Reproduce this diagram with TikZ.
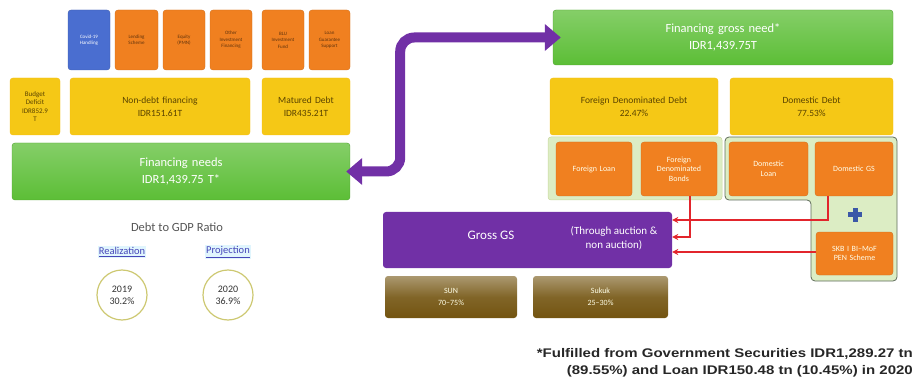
\documentclass[tikz,border=0pt]{standalone}
\usepackage{fontspec}
\setmainfont{Carlito}
\newfontfamily\fnfont[FakeStretch=1.2]{Liberation Sans}
\usetikzlibrary{arrows.meta,calc}
\definecolor{grn}{HTML}{5CBE36}
\definecolor{ylw}{HTML}{F5C816}
\definecolor{org}{HTML}{F08020}
\definecolor{blu}{HTML}{4A6ED0}
\definecolor{pur}{HTML}{7130A6}
\definecolor{brn}{HTML}{735410}
\definecolor{red2}{HTML}{E2252C}
\definecolor{lgrn}{HTML}{DCEDC4}
\definecolor{frm}{HTML}{5E6B5A}
\definecolor{txtg}{HTML}{555555}
\definecolor{ytxt}{HTML}{5A4300}
\begin{document}
\begin{tikzpicture}[x=1pt,y=-1pt,
  bx/.style 2 args={rounded corners=3pt, align=center, inner sep=1pt,
    minimum width=#1pt, minimum height=#2pt, text width={#1pt-6pt}},
  gbox/.style={top color=grn!75!white, bottom color=grn, draw=grn!85!black, line width=0.4pt,
    text=white, font=\fontsize{12.5}{17}\selectfont},
  ybox/.style={fill=ylw, draw=ylw!85!orange, text=ytxt, font=\fontsize{9.5}{13}\selectfont},
  obox/.style={fill=org, draw=org!85!black, line width=0.3pt, text=white!92!yellow, font=\fontsize{8}{9.5}\selectfont},
  sbox/.style={fill=org, draw=org!85!black, line width=0.3pt, text=org!40!black, font=\fontsize{5}{6.5}\selectfont},
  pbox/.style={fill=pur, text=white, font=\fontsize{11}{14}\selectfont},
  bbox/.style={top color=brn!60!white, bottom color=brn, middle color=brn!90!white, text=white!90!yellow, font=\fontsize{8}{12}\selectfont},
  redarr/.style={draw=red2, line width=1.6pt, -{Stealth[length=6pt,width=6pt]}},
  bigarr/.style={draw=pur, line width=10pt, rounded corners=14pt,
    {Triangle[length=16pt,width=26pt]}-{Triangle[length=16pt,width=26pt]}},
  ratio/.style={circle, draw=olive!45!white, line width=1.2pt, minimum size=50pt, inner sep=0pt,
    align=center, text=black!80, font=\fontsize{10}{12}\selectfont},
  lbl/.style={text=txtg, inner sep=1pt}
]
\useasboundingbox (0,0) rectangle (917,387);

% ---------- left: top small boxes ----------
\node[bx={42}{60}, sbox, fill=blu, draw=blu!80!black, text=white] (b0) at (89,40) {Covid-19\\Handling};
\node[bx={43}{60}, sbox] (b1) at (136.5,40) {Lending\\Scheme};
\node[bx={42}{60}, sbox] (b2) at (184,40) {Equity\\(PMN)};
\node[bx={42}{60}, sbox] (b3) at (231,40) {Other\\Investment\\Financing};
\node[bx={42}{60}, sbox] (b4) at (283,40) {BLU\\Investment\\Fund};
\node[bx={41}{60}, sbox] (b5) at (329.5,40) {Loan\\Guarantee\\Support};

% ---------- left: yellow row ----------
\node[bx={50}{57}, ybox, font=\fontsize{7}{8.5}\selectfont] (y1) at (35,106.5) {Budget\\Deficit\\IDR852.9\\T};
\node[bx={180}{57}, ybox] (y2) at (160,106.5) {Non-debt financing\\IDR151.61T};
\node[bx={88}{57}, ybox] (y3) at (306,106.5) {Matured Debt\\IDR435.21T};

% ---------- left: green ----------
\node[bx={338}{57}, gbox] (gl) at (181,171.5) {Financing needs\\IDR1,439.75 T*};

% ---------- debt to GDP ----------
\node[lbl, font=\fontsize{12.5}{14}\selectfont] (dg) at (177,227) {Debt to GDP Ratio};
\node[lbl, fill=cyan!12, text=blue!45!gray, font=\fontsize{10.5}{12}\selectfont] (re) at (122,252) {\underline{Realization}};
\node[lbl, fill=cyan!12, text=blue!45!gray, font=\fontsize{10.5}{12}\selectfont] (pr) at (228,252) {\underline{Projection}};
\node[ratio] (c1) at (122,295) {2019\\30.2\%};
\node[ratio] (c2) at (228,295) {2020\\36.9\%};

% ---------- right: green ----------
\node[bx={340}{55}, gbox] (gr) at (723,37.5) {Financing gross need*\\IDR1,439.75T};

% ---------- right: yellow ----------
\node[bx={168}{57}, ybox] (yf) at (634,106.5) {Foreign Denominated Debt\\22.47\%};
\node[bx={163}{57}, ybox] (yd) at (811.5,106.5) {Domestic Debt\\77.53\%};

% ---------- right: frames ----------
\filldraw[fill=lgrn, draw=lgrn!80!olive, line width=0.5pt, rounded corners=3pt] (548,137) rectangle (722,200);
\filldraw[fill=lgrn, draw=frm, line width=0.8pt, rounded corners=4pt]
  (725,137) -- (897,137) -- (897,281) -- (811,281) -- (811,200) -- (725,200) -- cycle;

% ---------- right: orange row ----------
\node[bx={76}{54}, obox] (fl) at (594,169) {Foreign Loan};
\node[bx={76}{54}, obox] (fb) at (679,169) {Foreign\\Denominated\\Bonds};
\node[bx={79}{54}, obox] (dl) at (768.5,169) {Domestic\\Loan};
\node[bx={78}{54}, obox] (dgs) at (854,169) {Domestic GS};
\node[bx={77}{43}, obox] (skb) at (854.5,253.5) {SKB I BI--MoF\\PEN Scheme};

% plus icon
\node[inner sep=0pt] (plus) at (855,215) {};
\fill[blu!80!black] ($(plus)+(-2.5,-7)$) rectangle ($(plus)+(2.5,7)$);
\fill[blu!80!black] ($(plus)+(-7,-2.5)$) rectangle ($(plus)+(7,2.5)$);

% ---------- purple & brown ----------
\node[bx={289}{56}, pbox] (gs) at (527.5,240) {};
\node[pbox, font=\fontsize{13}{15}\selectfont, inner sep=0pt] (gst) at (491,235) {Gross GS};
\node[pbox, align=center, inner sep=0pt] (gsn) at (614,238) {(Through auction \&\\non auction)};
\node[bx={132}{42}, bbox] (sun) at (451,297) {SUN\\70--75\%};
\node[bx={135}{42}, bbox] (suk) at (600.5,297) {Sukuk\\25--30\%};

% ---------- red arrows ----------
\coordinate (fbout) at ($(fb.south)+(11,0)$);
\coordinate (dgsout) at ($(dgs.south)+(-26,0)$);
\draw[redarr] (dgsout) |- ($(gs.east)+(0,-20)$);
\draw[redarr] (fbout) |- ($(gs.east)+(0,-3)$);
\draw[redarr] (skb.west |- 0,252) -- ($(gs.east)+(0,12)$);

% ---------- big purple arrow ----------
\draw[bigarr] ($(gl.east)+(-4,0)$) -- ($(gl.east)+(50,0)$) |- ($(gr.west)+(8,0)$);

% ---------- footnote ----------
\node[anchor=east, align=right, inner sep=0pt, text=black!85,
  font=\fnfont\bfseries\fontsize{12.5}{17}\selectfont] (fn) at (913,363)
  {*Fulfilled from Government Securities IDR1,289.27 tn\\(89.55\%) and Loan IDR150.48 tn (10.45\%) in 2020};
\end{tikzpicture}
\end{document}
